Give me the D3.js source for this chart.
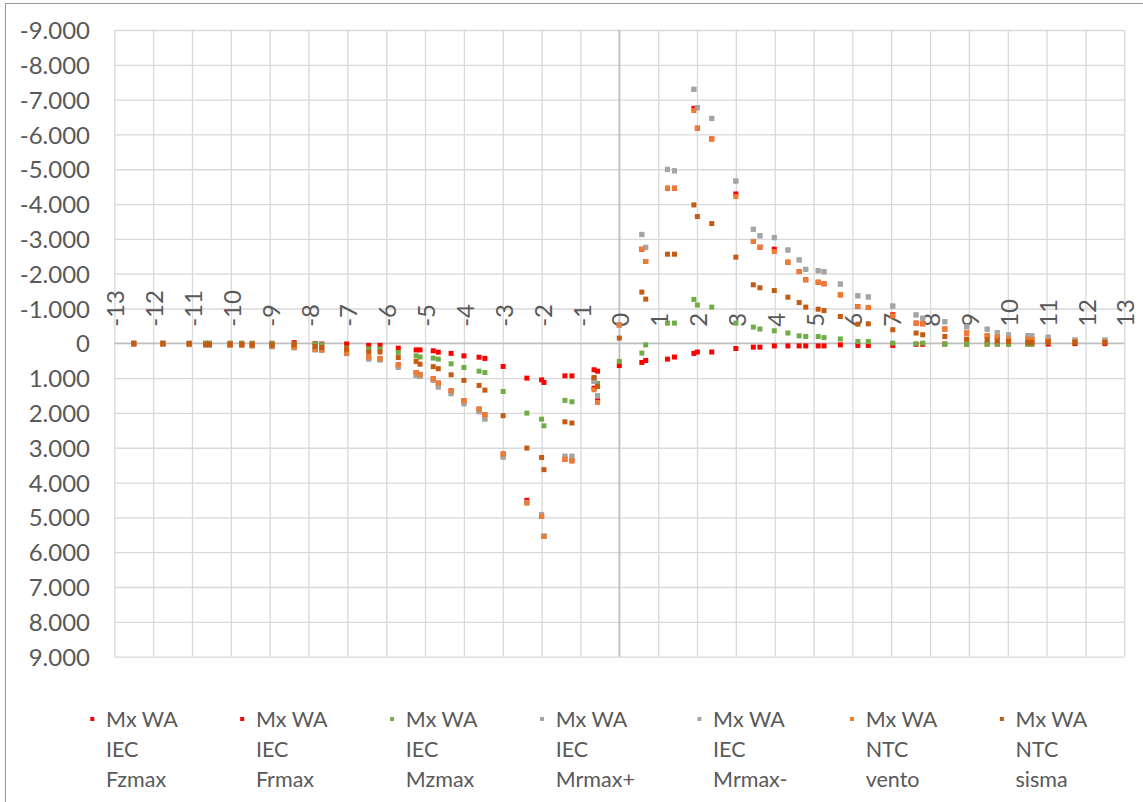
<!DOCTYPE html>
<html>
<head>
<meta charset="utf-8">
<script src="https://cdn.jsdelivr.net/npm/d3@7"></script>
<style>
  html, body { margin: 0; padding: 0; background: #fff; }
  svg { display: block; }
  text { font-family: Lato, "Open Sans", sans-serif; fill: #595959; }
</style>
</head>
<body>
<svg id="chart" width="1143" height="802"></svg>
<script>
// Stations along the structure (m) where Mx is evaluated
const stations = [
  -12.5, -11.75, -11.07, -10.65, -10.55, -10.02, -9.72, -9.45, -8.94, -8.37,
  -7.83, -7.66, -7.02, -6.45, -6.16, -5.69, -5.23, -5.13, -4.79, -4.66,
  -4.33, -4.0, -3.61, -3.46, -2.99, -2.38, -2.0, -1.94, -1.40, -1.22,
  -0.65, -0.56, 0,
  0.58, 0.68, 1.24, 1.42, 1.92, 2.01, 2.38, 3.0, 3.45, 3.62,
  3.99, 4.34, 4.63, 4.80, 5.12, 5.27, 5.69, 6.14, 6.41, 7.04,
  7.64, 7.81, 8.38, 8.94, 9.47, 9.73, 10.02, 10.52, 10.62, 11.04,
  11.73, 12.5
];

// Mx values for each load case (same order as stations)
const mxIecFzmax = [
  0, 0, 0, 0, 0, 0, 0, 0, 0, -20,
  10, 20, 20, 60, 60, 140, 190, 190, 215, 255,
  290, 360, 400, 435, 665, 1000, 1050, 1125, 935, 935,
  760, 800, 640,
  550, 495, 455, 395, 290, 250, 250, 150, 110, 110,
  75, 75, 75, 75, 75, 75, 45, 60, 60, 60,
  30, 30, 20, 20, 20, 20, 20, 20, 20, 20,
  10, 10
];
const mxIecFrmax = [
  20, 20, 30, 40, 40, 50, 50, 60, 80, 110,
  170, 190, 280, 400, 445, 620, 840, 905, 1020, 1145,
  1365, 1650, 1890, 2055, 3180, 4510, 4975, 5550, 3330, 3375,
  1290, 1650, -530,
  -2700, -2350, -4455, -4455, -6750, -6180, -5870, -4290, -2925, -2760,
  -2705, -2330, -2060, -1825, -1755, -1710, -1390, -1055, -1030, -820,
  -580, -560, -410, -295, -215, -180, -120, -120, -110, -80,
  -50, -40
];
const mxIecMzmax = [
  0, 0, 0, 0, 0, 0, 0, 10, 10, 20,
  20, 40, 140, 160, 160, 260, 360, 395, 425, 455,
  590, 695, 800, 840, 1385, 2005, 2180, 2370, 1640, 1680,
  1000, 1150, 520,
  280, 45, -580, -580, -1260, -1100, -1040, -580, -465, -410,
  -360, -295, -215, -195, -195, -165, -125, -50, -50, -5,
  15, -5, 25, 25, 25, 25, 25, 25, 25, -30,
  -20, -20
];
const mxIecMrmaxPlus = [
  20, 20, 40, 50, 50, 60, 60, 80, 100, 130,
  190, 210, 300, 455, 480, 695, 925, 955, 1065, 1260,
  1450, 1740, 1970, 2180, 3270, 4580, 4925, 5540, 3250, 3250,
  1100, 1510, -530,
  -3130, -2760, -5000, -4960, -7300, -6770, -6465, -4665, -3280, -3095,
  -3040, -2685, -2400, -2130, -2090, -2060, -1705, -1370, -1335, -1075,
  -820, -725, -625, -480, -410, -310, -245, -225, -220, -180,
  -100, -100
];
const mxIecMrmaxMinus = [
  20, 20, 35, 45, 45, 55, 55, 75, 95, 125,
  185, 205, 295, 450, 475, 690, 915, 945, 1060, 1250,
  1440, 1730, 1960, 2170, 3260, 4570, 4915, 5530, 3240, 3240,
  1090, 1500, -525,
  -3120, -2750, -4990, -4950, -7290, -6760, -6455, -4655, -3270, -3085,
  -3030, -2675, -2390, -2120, -2080, -2050, -1695, -1360, -1325, -1065,
  -810, -715, -615, -470, -400, -300, -235, -215, -210, -170,
  -90, -90
];
const mxNtcVento = [
  20, 20, 30, 40, 40, 50, 50, 60, 80, 110,
  170, 190, 280, 400, 445, 620, 840, 905, 1020, 1145,
  1365, 1650, 1890, 2055, 3180, 4590, 4975, 5550, 3330, 3375,
  1335, 1700, -530,
  -2705, -2350, -4455, -4455, -6685, -6180, -5870, -4215, -2925, -2760,
  -2635, -2330, -2060, -1825, -1755, -1710, -1390, -1055, -1030, -790,
  -580, -560, -410, -295, -215, -180, -120, -120, -110, -80,
  -50, -40
];
const mxNtcSisma = [
  0, 0, 10, 30, 30, 30, 30, 40, 50, 40,
  90, 120, 170, 250, 250, 410, 520, 600, 670, 730,
  905, 1065, 1210, 1345, 2080, 3010, 3280, 3630, 2255, 2290,
  985, 1240, -150,
  -1470, -1270, -2560, -2560, -3975, -3640, -3440, -2475, -1680, -1595,
  -1515, -1325, -1170, -1040, -980, -940, -770, -550, -560, -390,
  -295, -245, -195, -120, -100, -70, -50, -25, -25, -35,
  -25, -25
];

const seriesLabels = [
  ["Mx WA", "IEC", "Fzmax"],
  ["Mx WA", "IEC", "Frmax"],
  ["Mx WA", "IEC", "Mzmax"],
  ["Mx WA", "IEC", "Mrmax+"],
  ["Mx WA", "IEC", "Mrmax-"],
  ["Mx WA", "NTC", "vento"],
  ["Mx WA", "NTC", "sisma"]
];
const seriesColors = ["#FF0000", "#FF0000", "#70AD47", "#A5A5A5", "#A5A5A5", "#ED7D31", "#C55A11"];
const seriesValues = [mxIecFzmax, mxIecFrmax, mxIecMzmax, mxIecMrmaxPlus, mxIecMrmaxMinus, mxNtcVento, mxNtcSisma];

const yTickValues = d3.range(-9000, 9001, 1000);
const xTickValues = d3.range(-13, 14, 1);

// ---- layout ----
const plot = { left: 114.3, right: 1124.3, top: 30, bottom: 656.6 };
const svg = d3.select("#chart");

const locale = d3.formatLocale({ decimal: ",", thousands: ".", grouping: [3], currency: ["", ""], minus: "-" });
const fmt = locale.format(",.0f");

const x = d3.scaleLinear().domain([-13, 13]).range([plot.left, plot.right]);
const y = d3.scaleLinear().domain([-9000, 9000]).range([plot.top, plot.bottom]);

// chart frame
svg.append("rect")
  .attr("x", 5.5).attr("y", 3.5)
  .attr("width", 1150).attr("height", 820)
  .attr("fill", "none").attr("stroke", "#9a9a9a").attr("stroke-width", 1);

// gridlines
const gridV = svg.append("g")
  .attr("transform", `translate(0,${plot.top})`)
  .call(d3.axisBottom(x).tickValues(xTickValues).tickSize(plot.bottom - plot.top).tickFormat(""));
gridV.select(".domain").remove();
gridV.selectAll("line").attr("stroke", "#D9D9D9").attr("stroke-width", 1.3);

const gridH = svg.append("g")
  .attr("transform", `translate(${plot.left},0)`)
  .call(d3.axisRight(y).tickValues(yTickValues).tickSize(plot.right - plot.left).tickFormat(""));
gridH.select(".domain").remove();
gridH.selectAll("line").attr("stroke", "#D9D9D9").attr("stroke-width", 1.3);

// zero axes
svg.append("line")
  .attr("x1", x(0)).attr("x2", x(0)).attr("y1", plot.top).attr("y2", plot.bottom)
  .attr("stroke", "#BFBFBF").attr("stroke-width", 1.6);
svg.append("line")
  .attr("x1", plot.left).attr("x2", plot.right).attr("y1", y(0)).attr("y2", y(0))
  .attr("stroke", "#BFBFBF").attr("stroke-width", 1.6);

// y labels
const yAxis = svg.append("g")
  .attr("transform", "translate(90,0)")
  .call(d3.axisLeft(y).tickValues(yTickValues).tickFormat(fmt).tickSize(0).tickPadding(0));
yAxis.select(".domain").remove();
yAxis.selectAll("text")
  .attr("font-family", "Lato, 'Open Sans', sans-serif")
  .attr("font-size", 24)
  .attr("fill", "#595959")
  .attr("dy", "0.36em");

// x labels, rotated, sitting on the zero line
svg.append("g")
  .selectAll("text")
  .data(xTickValues)
  .join("text")
  .attr("transform", d => `translate(${x(d)},${y(0) - 16.5}) rotate(-90)`)
  .attr("dy", "0.42em")
  .attr("text-anchor", "start")
  .attr("font-size", 24)
  .text(d => fmt(d));

// markers
const markerSize = 5;
seriesValues.forEach((vals, i) => {
  svg.append("g")
    .selectAll("rect")
    .data(stations.map((s, k) => [s, vals[k]]))
    .join("rect")
    .attr("x", d => x(d[0]) - markerSize / 2)
    .attr("y", d => y(d[1]) - markerSize / 2)
    .attr("width", markerSize)
    .attr("height", markerSize)
    .attr("fill", seriesColors[i]);
});

// legend
const legend = svg.append("g");
let lx = 92.3;
seriesLabels.forEach((lines, i) => {
  const g = legend.append("g").attr("transform", `translate(${lx},0)`);
  g.append("rect")
    .attr("x", -2).attr("y", 717).attr("width", 4).attr("height", 4)
    .attr("fill", seriesColors[i]);
  const t = g.append("text")
    .attr("x", 13.7)
    .attr("font-size", 21.5);
  lines.forEach((ln, j) => {
    t.append("tspan").attr("x", 13.7).attr("y", 726.7 + j * 30.3).text(ln);
  });
  let w = 0;
  t.selectAll("tspan").each(function () { w = Math.max(w, this.getComputedTextLength()); });
  lx += 13.7 + w + 64.5;
});
</script>
</body>
</html>
